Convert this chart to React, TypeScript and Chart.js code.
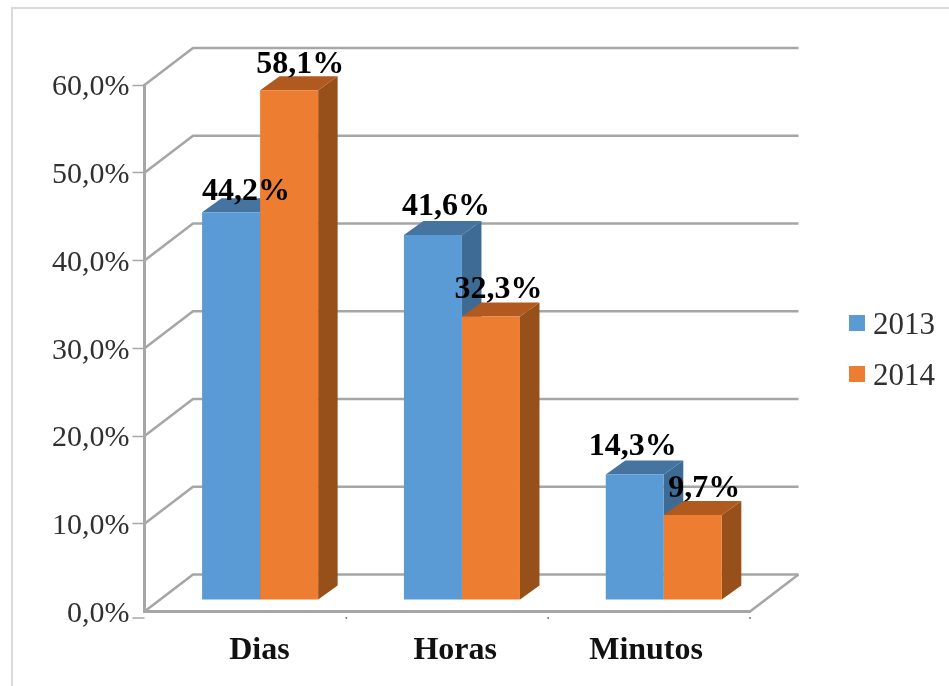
import React, { useEffect, useRef } from "react";
import { Chart, registerables } from "chart.js";

Chart.register(...registerables);

const categories = ["Dias", "Horas", "Minutos"];
const series2013 = [44.2, 41.6, 14.3];
const series2014 = [58.1, 32.3, 9.7];
const seriesNames = ["2013", "2014"];

const FONT = '"Liberation Serif", "Times New Roman", serif';
const GRID = "#a6a6a6";
const fmt = (v: number) => v.toFixed(1).replace(".", ",") + "%";

const wall = { dx: 48.5, dy: -37 };
const barShift = { dx: 14.7, dy: -11.5 };
const barDepth = { dx: 19.5, dy: -14 };
const xLabelNudge = [14, 8, -3];
const valueNudge = [
  [{ dx: 15, dy: -12 }, { dx: 13, dy: -20 }, { dx: -2, dy: -19.5 }],
  [{ dx: 11, dy: -17 }, { dx: 7.5, dy: -19 }, { dx: 11.5, dy: -18 }],
];
const faces = [
  { top: "#44749f", side: "#3d6b94" },
  { top: "#b05a20", side: "#975019" },
];

function poly(ctx: CanvasRenderingContext2D, pts: number[][], fill: string) {
  ctx.beginPath();
  pts.forEach((p, i) => (i ? ctx.lineTo(p[0], p[1]) : ctx.moveTo(p[0], p[1])));
  ctx.closePath();
  ctx.fillStyle = fill;
  ctx.fill();
}

const scene = {
  id: "scene",
  beforeDatasetsDraw(chart: any) {
    const { ctx, scales, chartArea } = chart;
    const { x, y } = scales;
    const { left, right, bottom } = chartArea;

    // back wall and floor
    ctx.save();
    ctx.strokeStyle = GRID;
    ctx.lineWidth = 2.6;
    ctx.lineJoin = "round";
    y.ticks.forEach((t: any) => {
      const py = y.getPixelForValue(t.value);
      ctx.beginPath();
      ctx.moveTo(left, py);
      ctx.lineTo(left + wall.dx, py + wall.dy);
      ctx.lineTo(right + wall.dx, py + wall.dy);
      ctx.stroke();
    });
    ctx.beginPath();
    ctx.moveTo(right, bottom);
    ctx.lineTo(right + wall.dx, bottom + wall.dy);
    ctx.stroke();

    // the marks under the floor
    ctx.lineWidth = 1.5;
    ctx.beginPath();
    ctx.moveTo(left - 12, bottom + 6.5);
    ctx.lineTo(left, bottom + 6.5);
    ctx.stroke();
    ctx.strokeStyle = "#777777";
    categories.forEach((_, i) => {
      const bx = x.getPixelForValue(i) + x.width / categories.length / 2;
      ctx.beginPath();
      ctx.moveTo(bx, bottom + 5.5);
      ctx.lineTo(bx, bottom + 7.5);
      ctx.stroke();
    });
    ctx.restore();

    // bars: depth faces and fronts, left to right
    ctx.save();
    ctx.translate(barShift.dx, barShift.dy);
    categories.forEach((_, i) => {
      chart.data.datasets.forEach((_d: any, di: number) => {
        const el = chart.getDatasetMeta(di).data[i];
        const { x: cx, y: top, base, width } = el.getProps(["x", "y", "base", "width"], true);
        const l = cx - width / 2;
        const r = cx + width / 2;
        const d = barDepth;
        poly(ctx, [[r, top], [r + d.dx, top + d.dy], [r + d.dx, base + d.dy], [r, base]], faces[di].side);
        poly(ctx, [[l, top], [l + d.dx, top + d.dy], [r + d.dx, top + d.dy], [r, top]], faces[di].top);
        el.draw(ctx);
      });
    });
    ctx.restore();

    // value labels
    ctx.save();
    ctx.fillStyle = "#000000";
    ctx.font = `bold 32px ${FONT}`;
    ctx.textAlign = "center";
    ctx.textBaseline = "alphabetic";
    chart.data.datasets.forEach((ds: any, di: number) => {
      ds.data.forEach((v: number, i: number) => {
        const el = chart.getDatasetMeta(di).data[i];
        const n = valueNudge[di][i];
        ctx.fillText(fmt(v), el.x + barShift.dx + n.dx, el.y + barShift.dy + n.dy);
      });
    });
    ctx.restore();
    return false;
  },
  afterDraw(chart: any) {
    const { ctx, scales, chartArea } = chart;
    const { x } = scales;
    ctx.save();
    // category labels
    ctx.fillStyle = "#111111";
    ctx.font = `bold 32px ${FONT}`;
    ctx.textAlign = "center";
    ctx.textBaseline = "alphabetic";
    categories.forEach((c, i) => {
      ctx.fillText(c, x.getPixelForValue(i) + xLabelNudge[i], chartArea.bottom + 47);
    });
    // legend
    ctx.font = `31px ${FONT}`;
    ctx.textAlign = "left";
    chart.data.datasets.forEach((ds: any, di: number) => {
      const rowY = 323 + di * 51;
      ctx.fillStyle = ds.backgroundColor;
      ctx.fillRect(849, rowY - 8, 16, 16);
      ctx.fillStyle = "#303030";
      ctx.fillText(ds.label, 873, rowY + 11);
    });
    ctx.restore();
  },
};

export default function App() {
  const ref = useRef<HTMLCanvasElement>(null);
  useEffect(() => {
    const chart = new Chart(ref.current as HTMLCanvasElement, {
      type: "bar",
      data: {
        labels: categories,
        datasets: [
          { label: seriesNames[0], data: series2013, backgroundColor: "#5b9bd5", borderWidth: 0 },
          { label: seriesNames[1], data: series2014, backgroundColor: "#ed7d31", borderWidth: 0 },
        ],
      },
      options: {
        responsive: false,
        animation: false,
        layout: { padding: { top: 85, right: 199, left: 0, bottom: 0 } },
        plugins: { legend: { display: false }, title: { display: false }, tooltip: { enabled: false } },
        datasets: { bar: { categoryPercentage: 0.575, barPercentage: 1 } },
        scales: {
          x: {
            afterFit: (s: any) => { s.height = 74.5; },
            ticks: { display: false },
            grid: { display: false },
            border: { display: true, color: GRID, width: 3 },
          },
          y: {
            min: 0,
            max: 60,
            afterFit: (s: any) => { s.width = 144.5; },
            ticks: {
              stepSize: 10,
              padding: 3,
              labelOffset: 2.5,
              color: "#303030",
              font: { family: FONT, size: 30 },
              callback: (v: any) => fmt(Number(v)),
            },
            grid: {
              drawOnChartArea: false,
              tickLength: 12,
              tickWidth: 1.5,
              tickColor: (c: any) => (c.tick && c.tick.value === 0 ? "rgba(0,0,0,0)" : GRID),
            },
            border: { display: true, color: GRID, width: 3 },
          },
        },
      },
      plugins: [scene],
    } as any);
    return () => chart.destroy();
  }, []);
  return (
    <div style={{ position: "fixed", left: 0, top: 0, width: 949, height: 686, background: "#fff", overflow: "hidden" }}>
      <canvas ref={ref} width={949} height={686} style={{ display: "block", filter: "blur(0.6px)" }} />
      <div style={{ position: "absolute", left: 11, top: 7, right: -4, bottom: -4, border: "2px solid #d9d9d9", pointerEvents: "none" }} />
    </div>
  );
}
